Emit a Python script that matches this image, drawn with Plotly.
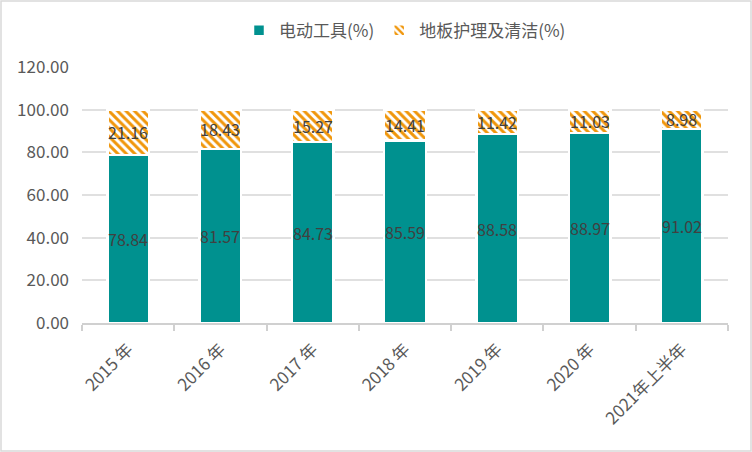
import plotly.graph_objects as go

categories = ["2015 年", "2016 年", "2017 年", "2018 年", "2019 年", "2020 年", "2021年上半年"]
power_tools = [78.84, 81.57, 84.73, 85.59, 88.58, 88.97, 91.02]
floor_care = [21.16, 18.43, 15.27, 14.41, 11.42, 11.03, 8.98]
series_names = ["电动工具(%)", "地板护理及清洁(%)"]
y_ticks = [0, 20, 40, 60, 80, 100, 120]

TEAL = "#00918F"
ORANGE = "#F0960A"
TXT = "#595959"
FONT = "Noto Sans CJK SC, Microsoft YaHei, sans-serif"

fig = go.Figure()
fig.add_trace(go.Bar(
    x=categories, y=power_tools, name=series_names[0],
    marker=dict(color=TEAL, line=dict(color="white", width=2.5)),
))
fig.add_trace(go.Bar(
    x=categories, y=floor_care, name=series_names[1],
    marker=dict(color="white", line=dict(color="white", width=2.5),
                pattern=dict(shape="\\", fgcolor=ORANGE, bgcolor="white", fgopacity=1,
                             size=6, solidity=0.5, fillmode="overlay")),
))

ann = []
for c, a, b in zip(categories, power_tools, floor_care):
    ann.append(dict(x=c, y=a / 2, text=f"{a:.2f}", showarrow=False,
                    font=dict(size=16, color="#404040", family=FONT)))
    ann.append(dict(x=c, y=a + b / 2, text=f"{b:.2f}", showarrow=False,
                    font=dict(size=16, color="#404040", family=FONT)))

fig.update_layout(
    barmode="stack",
    bargap=0.55,
    width=752, height=452,
    margin=dict(l=82, r=24, t=67, b=129, autoexpand=False),
    paper_bgcolor="white", plot_bgcolor="white",
    font=dict(family=FONT, color=TXT, size=15),
    legend=dict(orientation="h", x=0.5, xanchor="center", y=0.972, yanchor="top",
                yref="container", font=dict(size=17, color=TXT),
                traceorder="normal"),
    annotations=ann,
    xaxis=dict(showline=True, linecolor="#D0D0D0", linewidth=1.5, automargin=False,
               ticks="outside", tickson="boundaries", ticklen=6, tickcolor="#D0D0D0",
               tickwidth=1.5, tickangle=-45, tickfont=dict(size=17, color=TXT),
               ticklabelstandoff=8),
    yaxis=dict(range=[0, 120], tickvals=y_ticks, tickformat=".2f", automargin=False,
               showgrid=True, gridcolor="#E0E0E0", gridwidth=1.5,
               zeroline=False, ticks="", tickfont=dict(size=17, color=TXT),
               ticklabelstandoff=12),
    shapes=[dict(type="rect", xref="paper", yref="paper",
                 x0=-81/646, x1=1 + 23/646, y0=-128/256, y1=1 + 66/256,
                 line=dict(color="#D9D9D9", width=1.5))],
)

fig.write_html("out.html", config={"displayModeBar": False},
               post_script="document.body.style.margin='0';document.body.style.overflow='hidden';")
